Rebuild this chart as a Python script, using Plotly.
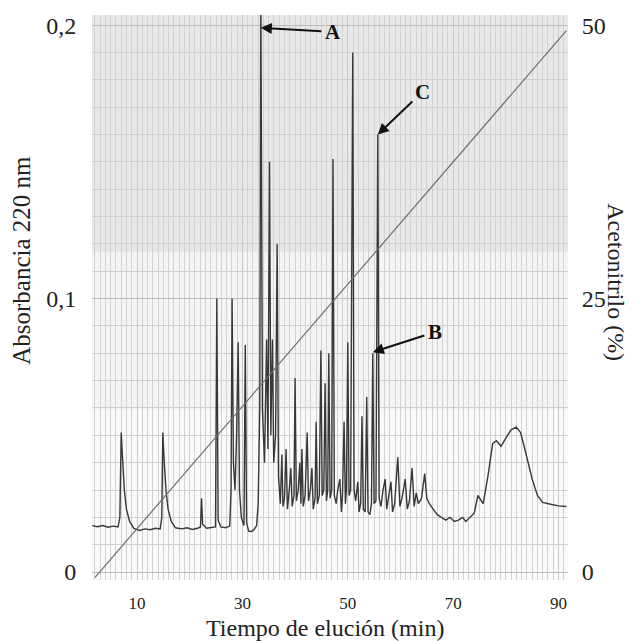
import plotly.graph_objects as go

# ---------------- data ----------------
time_min = [
    1.5, 2.5, 3.5, 4.5, 5.5, 6.4, 6.75, 7.0, 7.25, 7.6, 8.0, 8.6, 9.4, 10.5, 11.5, 12.5, 13.5,
    14.4, 14.7, 14.9, 15.15, 15.5, 15.9, 16.5, 17.3, 18.5, 19.5, 20.5, 21.5, 22.05, 22.25, 22.45,
    23.2, 24.0, 24.9, 25.15, 25.4, 25.9, 26.8, 27.6, 27.85, 28.05, 28.3, 28.6, 28.9, 29.2, 29.45,
    29.8, 30.3, 30.55, 30.8, 31.2, 31.7, 32.2, 32.7, 33.0, 33.3, 33.5, 33.8, 34.2, 34.6, 34.85,
    35.15, 35.4, 35.7, 35.95, 36.3, 36.6, 36.85, 37.2, 37.5, 37.7, 38.0, 38.3, 38.55, 38.9, 39.2,
    39.45, 39.8, 40.0, 40.25, 40.6, 40.9, 41.1, 41.3, 41.55, 41.9, 42.3, 42.55, 42.9, 43.2, 43.45,
    43.8, 44.0, 44.25, 44.6, 44.9, 45.15, 45.45, 45.7, 45.95, 46.2, 46.4, 46.65, 46.95, 47.2,
    47.45, 47.8, 48.1, 48.5, 48.8, 49.0, 49.3, 49.55, 49.75, 50.0, 50.25, 50.55, 50.95, 51.2,
    51.5, 51.9, 52.15, 52.45, 52.7, 52.95, 53.3, 53.6, 53.85, 54.2, 54.5, 54.75, 55.0, 55.35,
    55.7, 55.95, 56.3, 56.7, 57.1, 57.4, 57.8, 58.2, 58.5, 58.9, 59.5, 59.9, 60.3, 60.9, 61.3,
    61.7, 62.2, 62.6, 63.0, 63.4, 64.0, 64.6, 65.0, 65.5, 66.2, 67.0, 67.8, 68.6, 69.4, 70.2,
    71.0, 71.8, 72.4, 73.0, 74.0, 74.7, 75.7, 76.6, 77.5, 78.2, 79.1, 80.0, 81.0, 82.0, 82.8,
    83.6, 84.3, 85.0, 86.0, 87.0, 88.5, 90.0, 91.5,
]
absorbance = [
    0.0170, 0.0166, 0.0170, 0.0164, 0.0168, 0.0165, 0.0200, 0.0510, 0.0420, 0.0300, 0.0230,
    0.0185, 0.0160, 0.0152, 0.0158, 0.0155, 0.0160,
    0.0158, 0.0200, 0.0510, 0.0410, 0.0300, 0.0230, 0.0185, 0.0162, 0.0158, 0.0162, 0.0156,
    0.0160, 0.0165, 0.0270, 0.0175,
    0.0160, 0.0163, 0.0165, 0.1000, 0.0190, 0.0165, 0.0162, 0.0168, 0.0300, 0.1000, 0.0400,
    0.0300, 0.0500, 0.0840, 0.0300,
    0.0200, 0.0170, 0.0830, 0.0180, 0.0150, 0.0148, 0.0155, 0.0170, 0.0250, 0.0600, 0.2100,
    0.0600, 0.0400, 0.0850, 0.0450,
    0.1500, 0.0500, 0.0850, 0.0400, 0.0500, 0.1200, 0.0350, 0.0250, 0.0430, 0.0240, 0.0270,
    0.0450, 0.0230, 0.0300, 0.0380,
    0.0240, 0.0280, 0.0710, 0.0260, 0.0300, 0.0400, 0.0250, 0.0450, 0.0240, 0.0280, 0.0510,
    0.0260, 0.0300, 0.0380, 0.0230,
    0.0270, 0.0550, 0.0250, 0.0280, 0.0810, 0.0280, 0.0300, 0.0690, 0.0260, 0.0300, 0.0800,
    0.0270, 0.0300, 0.1510,
    0.0280, 0.0250, 0.0300, 0.0340, 0.0220, 0.0280, 0.0550, 0.0250, 0.0300, 0.0840, 0.0280,
    0.0300, 0.1900, 0.0300,
    0.0260, 0.0330, 0.0220, 0.0250, 0.0570, 0.0230, 0.0220, 0.0640, 0.0220, 0.0210, 0.0250,
    0.0800, 0.0250, 0.0260,
    0.1600, 0.0270, 0.0240, 0.0300, 0.0340, 0.0230, 0.0280, 0.0330, 0.0220, 0.0250, 0.0420,
    0.0240, 0.0270, 0.0340, 0.0230,
    0.0260, 0.0380, 0.0240, 0.0290, 0.0250, 0.0270, 0.0360, 0.0270, 0.0250, 0.0230, 0.0210,
    0.0200, 0.0190, 0.0200, 0.0185,
    0.0190, 0.0200, 0.0185, 0.0195, 0.0215, 0.0280, 0.0250, 0.0350, 0.0470, 0.0480, 0.0460,
    0.0490, 0.0520, 0.0530, 0.0510,
    0.0450, 0.0390, 0.0340, 0.0280, 0.0255, 0.0248, 0.0242, 0.0240,
]

gradient_time = [2.0, 91.5]
acetonitrile_pct = [-0.5, 49.5]

x_tick_values = [10, 30, 50, 70, 90]
abs_tick_values = [0, 0.1, 0.2]
acn_tick_values = [0, 25, 50]

peak_labels = ["A", "B", "C"]
peak_label_time = [33.5, 54.75, 55.7]
peak_label_abs = [0.199, 0.0804, 0.160]

# ---------------- figure ----------------
SERIF = "Liberation Serif, Times New Roman, serif"
abs_range = [-0.0029, 0.2037]
acn_range = [abs_range[0] * 250, abs_range[1] * 250]

fig = go.Figure()

fig.add_trace(go.Scatter(
    x=gradient_time, y=acetonitrile_pct, yaxis="y2", mode="lines",
    line=dict(color="#6e6e6e", width=1.2), showlegend=False, hoverinfo="skip",
))
fig.add_trace(go.Scatter(
    x=time_min, y=absorbance, mode="lines",
    line=dict(color="#383838", width=1.4), showlegend=False,
))

# chart-paper look (background only)
fig.add_shape(type="rect", xref="paper", yref="paper", x0=0, x1=1, y0=0.58, y1=1,
              fillcolor="rgba(0,0,0,0.07)", line=dict(width=0), layer="below")
fig.add_shape(type="rect", xref="paper", yref="paper", x0=0, x1=1, y0=0.30, y1=0.58,
              fillcolor="rgba(0,0,0,0.025)", line=dict(width=0), layer="below")

offsets = {"A": (72, 4), "B": (62, -20), "C": (45, -43)}
for lab, t, a in zip(peak_labels, peak_label_time, peak_label_abs):
    dx, dy = offsets[lab]
    fig.add_annotation(
        x=t, y=a, xref="x", yref="y", text=f"<b>{lab}</b>",
        showarrow=True, ax=dx, ay=dy, arrowhead=2, arrowsize=1.1, arrowwidth=2,
        arrowcolor="#111", standoff=0, startstandoff=2,
        font=dict(family=SERIF, size=21, color="#111"),
    )

fig.add_annotation(text="Absorbancia 220 nm", xref="paper", yref="paper",
                   x=-0.147, y=0.565, xanchor="center", yanchor="middle",
                   showarrow=False, textangle=-90,
                   font=dict(family=SERIF, size=25, color="#222"))
fig.add_annotation(text="Acetonitrilo (%)", xref="paper", yref="paper",
                   x=1.101, y=0.527, xanchor="center", yanchor="middle",
                   showarrow=False, textangle=90,
                   font=dict(family=SERIF, size=24, color="#222"))
fig.add_annotation(text="Tiempo de elución (min)", xref="paper", yref="paper",
                   x=0.49, y=-0.085, xanchor="center", yanchor="middle",
                   showarrow=False,
                   font=dict(family=SERIF, size=24, color="#222"))

# the page body adds an 8 px offset, so the figure is sized 8 px smaller
fig.update_layout(
    width=627, height=633,
    margin=dict(l=84, r=67, t=7, b=61, autoexpand=False),
    paper_bgcolor="white", plot_bgcolor="#fafafa",
    separators=",.",
    font=dict(family=SERIF, color="#222"),
    xaxis=dict(
        range=[1.46, 91.8], tickvals=x_tick_values, showline=False, zeroline=False,
        automargin=False,
        ticks="outside", ticklen=8, tickcolor="rgba(0,0,0,0)",
        tickfont=dict(family=SERIF, size=17, color="#222"),
        showgrid=True, gridcolor="#c8c8c8", gridwidth=1,
        minor=dict(dtick=1, showgrid=True, gridcolor="#d2d2d2", gridwidth=1),
    ),
    yaxis=dict(
        range=abs_range, tickvals=abs_tick_values, ticktext=["0", "0,1", "0,2"],
        showline=False, zeroline=False, automargin=False,
        ticks="outside", ticklen=10, tickcolor="rgba(0,0,0,0)",
        tickfont=dict(family=SERIF, size=24, color="#222"),
        showgrid=True, gridcolor="#bdbdbd", gridwidth=1,
        minor=dict(dtick=0.01, showgrid=True, gridcolor="#d0d0d0", gridwidth=1),
    ),
    yaxis2=dict(
        range=acn_range, tickvals=acn_tick_values, overlaying="y", side="right",
        showgrid=False, zeroline=False, showline=False, automargin=False,
        ticks="outside", ticklen=8, tickcolor="rgba(0,0,0,0)",
        tickfont=dict(family=SERIF, size=24, color="#222"),
    ),
)

fig.write_html("out.html")
